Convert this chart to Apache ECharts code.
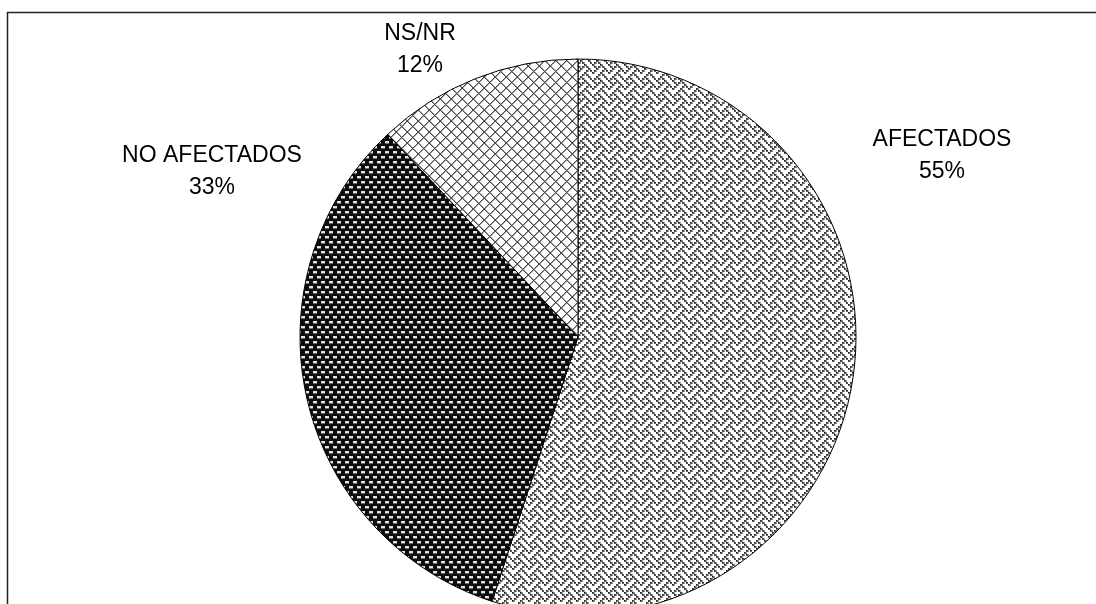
<!DOCTYPE html>
<html>
<head>
<meta charset="utf-8">
<script src="https://cdn.jsdelivr.net/npm/echarts@6/dist/echarts.min.js"></script>
<style>
  html, body { margin: 0; padding: 0; background: #fff; }
  #chart { width: 1096px; height: 604px; }
</style>
</head>
<body>
<div id="chart"></div>
<script>
// Survey answers (percent)
const categories = ['AFECTADOS', 'NO AFECTADOS', 'NS/NR'];
const values = [55, 33, 12];

// Where each two-line label block is centred
const labelSpots = [[942, 156], [212, 172], [420, 50]];

function makeTile(w, h, bg, draw) {
  const c = document.createElement('canvas');
  c.width = w; c.height = h;
  const g = c.getContext('2d');
  g.fillStyle = bg;
  g.fillRect(0, 0, w, h);
  draw(g);
  return c;
}

// Woven zig-zag fill
const weaveBits = [
  'X...X...',
  '.X.X.X..',
  '..X...X.',
  '.X...X.X',
  'X...X...',
  '...X.X..',
  '..X...X.',
  '.X.X...X'
];
const weaveTile = makeTile(16, 16, '#ffffff', g => {
  weaveBits.forEach((row, y) => {
    for (let x = 0; x < 8; x++) {
      if (row[x] === 'X') {
        g.fillStyle = '#9a9a9a';
        g.fillRect(x * 2 + 2, y * 2, 1, 2);
        g.fillStyle = '#5a5a5a';
        g.fillRect(x * 2, y * 2, 2, 2);
        g.fillStyle = '#1e1e1e';
        g.fillRect(x * 2, y * 2, 1, 1);
      }
    }
  });
});

// Dark fill with light staggered dashes
const dashTile = makeTile(8, 10, '#0c0c0c', g => {
  g.fillStyle = '#e2e2e2';
  g.fillRect(1, 1, 4, 2);
  g.fillRect(5, 6, 3, 2);
  g.fillRect(0, 6, 1, 2);
  g.fillStyle = '#6a6a6a';
  g.fillRect(1, 3, 4, 1);
  g.fillRect(5, 8, 3, 1);
  g.fillRect(0, 8, 1, 1);
});

// Diagonal lattice
const latticeTile = makeTile(11, 11, '#ffffff', g => {
  for (let i = 0; i < 11; i++) {
    g.fillStyle = '#a0a0a0';
    g.fillRect((i + 1) % 11, i, 1, 1);
    g.fillRect((11 - i) % 11, i, 1, 1);
    g.fillStyle = '#4a4a4a';
    g.fillRect(i, i, 1, 1);
    g.fillRect(10 - i, i, 1, 1);
  }
});

const fills = [weaveTile, dashTile, latticeTile];

const chart = echarts.init(document.getElementById('chart'), null, { renderer: 'canvas' });

chart.setOption({
  backgroundColor: '#ffffff',
  animation: false,
  graphic: [
    { type: 'line', shape: { x1: 7, y1: 12.5, x2: 1096, y2: 12.5 }, style: { stroke: '#222', lineWidth: 1.5 } },
    { type: 'line', shape: { x1: 7.5, y1: 12, x2: 7.5, y2: 604 }, style: { stroke: '#222', lineWidth: 1.5 } }
  ],
  series: [{
    type: 'pie',
    center: [578, 337],
    radius: 278,
    startAngle: 90,
    clockwise: true,
    silent: true,
    data: categories.map((name, i) => ({
      name: name,
      value: values[i],
      itemStyle: { color: { image: fills[i], repeat: 'repeat' } }
    })),
    itemStyle: { borderColor: '#000', borderWidth: 1 },
    label: {
      show: true,
      position: 'outside',
      formatter: '{b}\n{d}%',
      color: '#000',
      fontFamily: '"Liberation Sans", Arial, sans-serif',
      fontSize: 23,
      lineHeight: 32,
      align: 'center'
    },
    labelLine: { show: false },
    labelLayout: p => ({
      x: labelSpots[p.dataIndex][0],
      y: labelSpots[p.dataIndex][1],
      align: 'center',
      verticalAlign: 'middle'
    })
  }]
});
</script>
</body>
</html>
